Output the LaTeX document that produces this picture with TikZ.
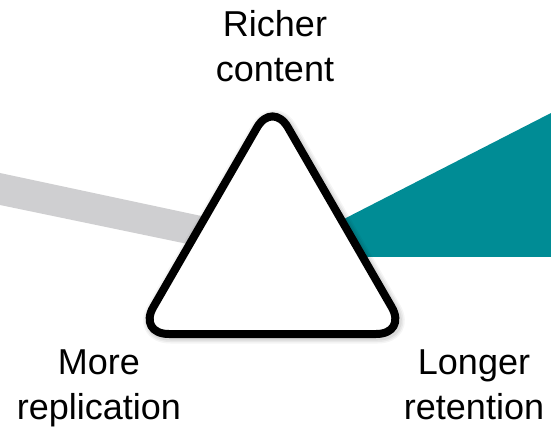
\documentclass[tikz,border=0pt]{standalone}
\usepackage{fontspec}
\setmainfont{Liberation Sans}
\definecolor{bandgray}{RGB}{207,207,209}
\definecolor{tealband}{RGB}{0,140,149}
\tikzset{
  lbl/.style={font={\fontsize{36}{45}\selectfont}, align=center, inner sep=0pt, anchor=base, text=black},
  tri/.style={line width=8pt, rounded corners=31pt, line join=round},
}
\begin{document}
\begin{tikzpicture}[x=1pt,y=-1pt]
\useasboundingbox (0,0) rectangle (551,427);
% gray band
\fill[bandgray] (0,173) -- (260,228.5) -- (260,259) -- (0,205) -- cycle;
% teal wedge
\fill[tealband] (300,241.5) -- (551,113) -- (551,257) -- (300,257) -- cycle;
% triangle corners
\coordinate (A) at (272.5,100.7);
\coordinate (B) at (137.8,334);
\coordinate (C) at (407.2,334);
% soft shadow
\foreach \w/\o in {16/0.04,13/0.05,10/0.06}{
  \draw[tri, line width=\w pt, black, opacity=\o, transform canvas={shift={(1.5pt,-1.5pt)}}] (A) -- (B) -- (C) -- cycle;
}
\draw[tri, fill=white, draw=black] (A) -- (B) -- (C) -- cycle;
% labels (anchor = baseline of last line)
\node[lbl] (top) at (275,82) {Richer\\content};
\node[lbl] (left) at (99,419) {More\\replication};
\node[lbl] (right) at (474,419) {Longer\\retention};
\end{tikzpicture}
\end{document}
